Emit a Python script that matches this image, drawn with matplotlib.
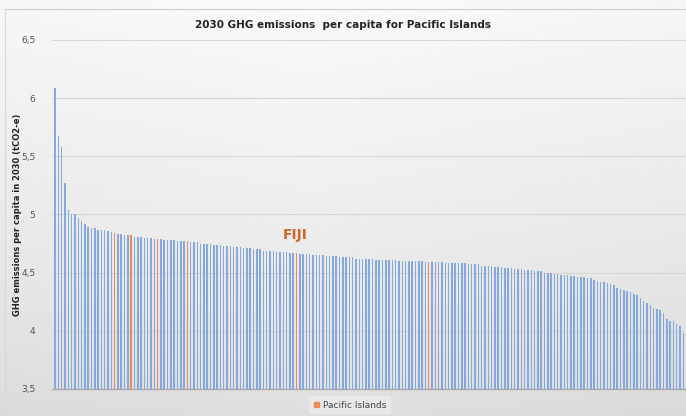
import numpy as np
import matplotlib.pyplot as plt
from matplotlib.patches import Patch

# 2030 GHG emissions per capita (tCO2-e), sorted descending
values = [6.09, 5.67, 5.58, 5.27, 5.04, 5.00, 5.00, 4.97, 4.94, 4.92,
          4.89, 4.88, 4.88, 4.87, 4.87, 4.87, 4.86, 4.85, 4.84, 4.83,
          4.83, 4.82, 4.82, 4.82, 4.81, 4.81, 4.81, 4.80, 4.80, 4.80,
          4.79, 4.79,
          4.79, 4.78, 4.78, 4.78, 4.78, 4.77, 4.77, 4.77, 4.77,
          4.76, 4.76, 4.76, 4.75, 4.75, 4.75, 4.75, 4.74, 4.74, 4.74,
          4.73, 4.73, 4.73, 4.72, 4.72, 4.72, 4.71, 4.71, 4.71, 4.70,
          4.70, 4.70, 4.69, 4.69, 4.69, 4.69, 4.68, 4.68, 4.68, 4.68, 4.67, 4.67, 4.67,
          4.66, 4.66, 4.66, 4.66, 4.65, 4.65, 4.65, 4.65, 4.64, 4.64, 4.64, 4.64,
          4.63, 4.63, 4.63, 4.63, 4.63,
          4.62, 4.62, 4.62, 4.62, 4.62, 4.62, 4.61, 4.61, 4.61, 4.61, 4.61, 4.61,
          4.61, 4.60, 4.60, 4.60, 4.60, 4.60, 4.60, 4.60, 4.60, 4.59, 4.59,
          4.59, 4.59, 4.59, 4.59, 4.58, 4.58, 4.58, 4.58, 4.58, 4.58, 4.58,
          4.57, 4.57, 4.57, 4.57, 4.56, 4.56, 4.56, 4.56, 4.55, 4.55, 4.55,
          4.54, 4.54, 4.54, 4.53, 4.53, 4.53, 4.52, 4.52, 4.52, 4.51, 4.51,
          4.51, 4.50, 4.50, 4.50,
          4.49, 4.49, 4.48, 4.48, 4.48, 4.47, 4.47, 4.46, 4.46, 4.46, 4.45,
          4.45, 4.44, 4.43, 4.42,
          4.42, 4.41, 4.40, 4.39, 4.37, 4.36, 4.35, 4.34, 4.33, 4.32, 4.31,
          4.28, 4.26, 4.24, 4.22, 4.20, 4.19, 4.18, 4.15, 4.10, 4.08, 4.08,
          4.06, 4.04, 3.98]

# positions (rank) of Pacific Island countries
pacific_idx = [18, 23, 31, 40, 73, 113]
fiji_idx = 73

blue = '#86a8e0'
orange = '#f08a55'
colors = [orange if i in pacific_idx else blue for i in range(len(values))]

fig = plt.figure(figsize=(6.86, 4.16), dpi=100)

# soft gray gradient background
bg = fig.add_axes([0, 0, 1, 1], zorder=-10)
yy, xx = np.mgrid[0:1:200j, 0:1:200j]
grad = 0.87 + 0.11 * (yy ** 0.8) - 0.03 * np.abs(xx - 0.45)
bg.imshow(grad, cmap='gray', vmin=0, vmax=1, aspect='auto', origin='lower',
          extent=[0, 1, 0, 1])
bg.plot([0.008, 1], [0.978, 0.978], color='#d0d0d0', lw=0.8)
bg.plot([0.008, 0.008], [0, 0.978], color='#d8d8d8', lw=0.8)
bg.set_xlim(0, 1)
bg.set_ylim(0, 1)
bg.axis('off')

ax = fig.add_axes([0.076, 0.065, 0.924, 0.839])
ax.patch.set_alpha(0)
x = np.arange(len(values))
ax.bar(x, values, width=0.45, color=colors, bottom=0, zorder=3)

ax.set_ylim(3.5, 6.5)
ax.set_xlim(-0.9, len(values) - 0.2)
ticks = [3.5, 4, 4.5, 5, 5.5, 6, 6.5]
ax.set_yticks(ticks)
ax.set_yticklabels([('%g' % t).replace('.', ',') for t in ticks],
                   fontsize=6.5, color='#555555')
ax.set_xticks([])
ax.tick_params(axis='y', length=0, pad=12)
ax.grid(axis='y', color='#d6d6d6', lw=0.8, zorder=0)
for s in ['top', 'right', 'left']:
    ax.spines[s].set_visible(False)
ax.spines['bottom'].set_color('#a8a8a8')
ax.spines['bottom'].set_linewidth(1.0)

ax.set_ylabel('GHG emissions per capita in 2030 (tCO2-e)', fontsize=6,
              fontweight='bold', color='#222222')
ax.yaxis.set_label_coords(-0.047, 0.5)

fig.text(0.5, 0.94, '2030 GHG emissions  per capita for Pacific Islands',
         ha='center', va='center', fontsize=7.5, fontweight='bold',
         color='#222222')

ax.text(fiji_idx - 0.5, 4.82, 'FIJI', color='#d0692a', fontsize=10,
        fontweight='bold', ha='center', va='center')

leg = fig.legend(handles=[Patch(color=orange, label='Pacific Islands')],
                 loc='center', bbox_to_anchor=(0.51, 0.026), fontsize=6.5,
                 frameon=True, handlelength=0.6, handleheight=0.6,
                 handletextpad=0.4, borderpad=0.5)
leg.get_frame().set_facecolor('#ebebeb')
leg.get_frame().set_edgecolor('none')
leg.get_frame().set_boxstyle('square', pad=0.0)
for t in leg.get_texts():
    t.set_color('#444444')

fig.savefig('out.png', dpi=100)
